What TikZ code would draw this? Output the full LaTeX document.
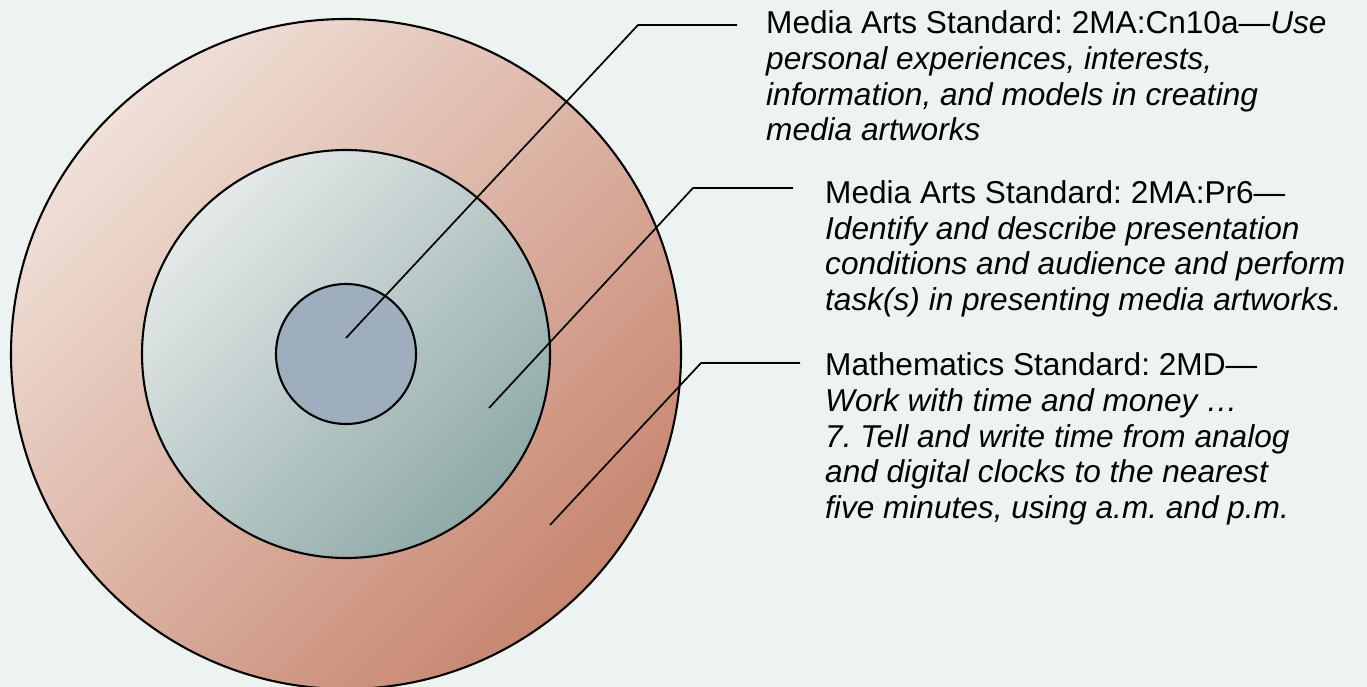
\documentclass[tikz,border=0pt]{standalone}
\usepackage{fontspec}
\setmainfont{Liberation Sans}
\frenchspacing
\definecolor{bg}{HTML}{EDF3F1}
\definecolor{outerA}{HTML}{F0E0D8}
\definecolor{outerB}{HTML}{C7866F}
\definecolor{midA}{HTML}{E4E9E9}
\definecolor{midB}{HTML}{8FAAA7}
\definecolor{innerC}{HTML}{9EAEBF}
\tikzset{
  ring/.style={circle, draw=black, line width=2.1pt, inner sep=0pt},
  leader/.style={draw=black, line width=1.7pt},
  label/.style={anchor=base west, align=left, inner sep=0pt,
    font=\fontsize{31.6}{35.7}\selectfont},
}
\begin{document}
\begin{tikzpicture}[x=1pt,y=-1pt]
\useasboundingbox (0,0) rectangle (1367,687);
\fill[bg] (0,0) rectangle (1367,687);
\node[ring, minimum size=670pt, top color=outerA, bottom color=outerB, shading angle=45] (outer) at (346,354) {};
\node[ring, minimum size=408pt, top color=midA, bottom color=midB, shading angle=45] (middle) at (346,354) {};
\node[ring, minimum size=140pt, fill=innerC] (inner) at (346,354) {};
\coordinate (s1) at (346,338);
\coordinate (e1) at (638,25);
\coordinate (h1) at (737,25);
\coordinate (s2) at (489,408);
\coordinate (e2) at (693,188);
\coordinate (h2) at (793,188);
\coordinate (s3) at (550,525);
\coordinate (e3) at (701,363);
\coordinate (h3) at (800,363);
\draw[leader] (s1) -- (e1) -- (h1);
\draw[leader] (s2) -- (e2) -- (h2);
\draw[leader] (s3) -- (e3) -- (h3);
% the base anchor of a multi-line node lies on its last line
\node[label] (t1) at (766,141) {Media Arts Standard: 2MA:Cn10a—\textit{Use}\\
\textit{personal experiences, interests,}\\
\textit{information, and models in creating}\\
\textit{media artworks}};
\node[label] (t2) at (825,310.4) {Media Arts Standard: 2MA:Pr6—\\
\textit{Identify and describe presentation}\\
\textit{conditions and audience and perform}\\
\textit{task(s) in presenting media artworks.}};
\node[label] (t3) at (825,518.5) {Mathematics Standard: 2MD—\\
\textit{Work with time and money …}\\
\textit{7. Tell and write time from analog}\\
\textit{and digital clocks to the nearest}\\
\textit{five minutes, using a.m. and p.m.}};
\end{tikzpicture}
\end{document}
